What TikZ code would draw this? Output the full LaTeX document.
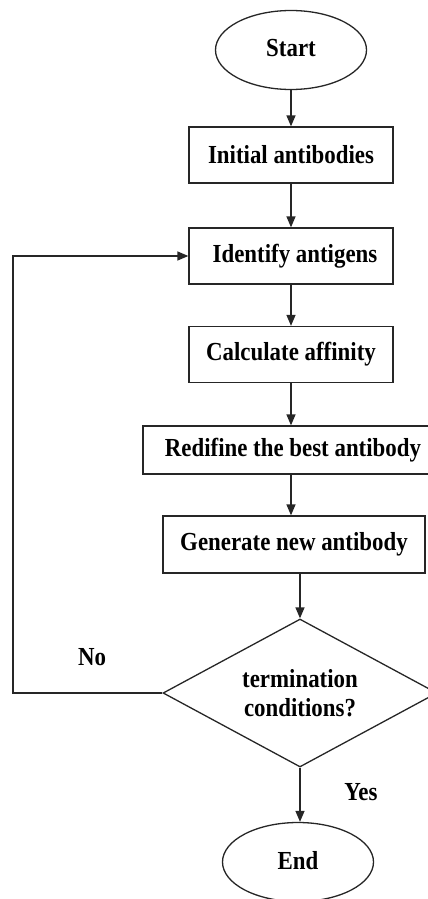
\documentclass[tikz,border=0pt]{standalone}
\usepackage{fontspec}
\setmainfont{Liberation Serif}[FakeStretch=0.88]
\usetikzlibrary{shapes.geometric,arrows.meta}
\begin{document}
\begin{tikzpicture}[x=1pt,y=-1pt,
  every node/.style={font=\fontsize{26}{29}\selectfont\bfseries, inner sep=0pt},
  arr/.style={line width=1.3pt, draw=black!85, -{Triangle[length=11pt,width=9pt]}},
  procbox/.style={rectangle, line width=1.3pt, draw=black!85, minimum height=56pt},
  terminal/.style={ellipse, line width=1.3pt, draw=black!85, minimum width=151pt, minimum height=79pt},
  decision/.style={diamond, line width=1.3pt, draw=black!85, minimum width=274pt, minimum height=148pt, aspect=1.85, align=center}]
  \clip (0,0) rectangle (428,899);
  \useasboundingbox (0,0) rectangle (428,899);

  % flow nodes
  \node[terminal] (start) at (291,50) {\raisebox{4pt}{Start}};
  \node[procbox, minimum width=204pt] (init) at (291,155) {Initial antibodies};
  \node[procbox, minimum width=204pt] (ident) at (291,256) {\hspace*{8pt}Identify antigens};
  \node[procbox, minimum width=204pt] (calc) at (291,354.5) {Calculate affinity};
  \node[procbox, minimum width=300pt, minimum height=48pt] (redef) at (293,450) {Redifine the best antibody};
  \node[procbox, minimum width=262pt, minimum height=57pt] (gen) at (294,544.5) {Generate new antibody};
  \node[decision] (dec) at (300,693) {termination\\conditions?};
  \node[terminal] (stop) at (298,862) {\raisebox{4pt}{End}};

  % labels on the branches
  \node (nolab) at (92,657) {No};
  \node (yeslab) at (361,792) {Yes};

  % connectors
  \draw[arr] (start.south) -- (init.north);
  \draw[arr] (init.south) -- (ident.north);
  \draw[arr] (ident.south) -- (calc.north);
  \draw[arr] (calc.south) -- (calc.south |- redef.north);
  \draw[arr] (redef.south -| calc.south) -- (calc.south |- gen.north);
  \draw[arr] (gen.south -| dec.north) -- (dec.north);
  \draw[arr] (dec.south) -- (dec.south |- stop.north);
  \coordinate (loopcorner) at (13,693);
  \draw[arr] (dec.west) -- (loopcorner) |- (ident.west);
\end{tikzpicture}
\end{document}
